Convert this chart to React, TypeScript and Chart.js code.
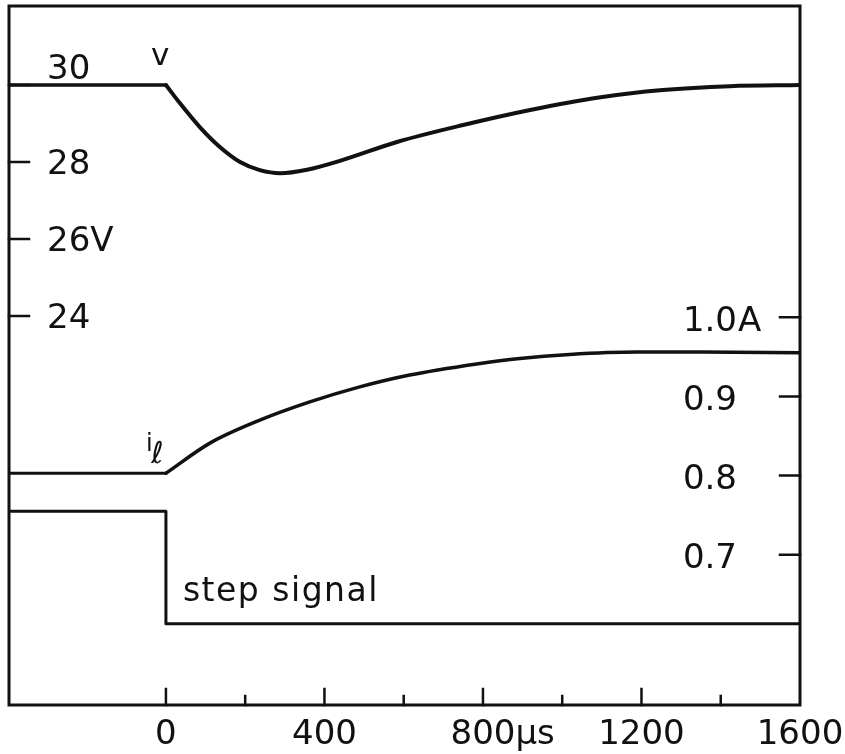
import React, { useEffect, useRef } from "react";
import { Chart, registerables } from "chart.js";

Chart.register(...registerables);

// ---- data ----
const xMin = -396;
const xMax = 1600;
const xTickValues = [0, 200, 400, 600, 800, 1000, 1200, 1400];
const xMajorTicks = [0, 400, 800, 1200];
const xLabelValues = [0, 400, 800, 1200, 1600];
const xLabels = ["0", "400", "800μs", "1200", "1600"];

const vTickValues = [30, 28, 26, 24];
const vTickLabels = ["30", "28", "26V", "24"];
const aTickValues = [1.0, 0.9, 0.8, 0.7];
const aTickLabels = ["1.0A", "0.9", "0.8", "0.7"];

const vPreTime = [-396, 0];
const vPre = [30, 30];
const vTime = [0, 35, 86, 136, 187, 237, 288, 356, 439, 583, 750, 919, 1088, 1254, 1423, 1600];
const vVolts = [30, 29.53, 28.9, 28.39, 28.0, 27.79, 27.71, 27.8, 28.03, 28.52, 28.96, 29.35, 29.67, 29.87, 29.97, 30.0];

const iPreTime = [-396, 0];
const iPre = [0.803, 0.803];
const iTime = [0, 111, 237, 363, 489, 615, 784, 893, 1019, 1188, 1354, 1600];
const iAmps = [0.803, 0.841, 0.87, 0.893, 0.912, 0.927, 0.941, 0.948, 0.953, 0.956, 0.956, 0.955];

const stepTime = [-396, 0, 0, 1600];
const stepLevel = [0.755, 0.755, 0.613, 0.613];

const vAxisMin = 13.896;
const vAxisMax = 32.052;
const aAxisMin = 0.5104;
const aAxisMax = 1.3929;

const ink = "#111";
const FONT = '"DejaVu Sans", "Liberation Sans", sans-serif';

const pts = (xs: number[], ys: number[]) => xs.map((x, i) => ({ x, y: ys[i] }));

function splitLabel(text: string) {
  const m = text.match(/^([\d.]+)(.*)$/);
  return m ? { num: m[1], unit: m[2] } : { num: text, unit: "" };
}

const annotatePlugin = {
  id: "annotate",
  afterDraw(chart: any) {
    const { ctx, chartArea } = chart;
    const xs = chart.scales.x;
    const yv = chart.scales.yV;
    const ya = chart.scales.yA;
    const { left, right, top, bottom } = chartArea;
    ctx.save();
    ctx.strokeStyle = ink;
    ctx.fillStyle = ink;
    ctx.lineCap = "square";
    // frame
    ctx.lineWidth = 3;
    ctx.strokeRect(left, top, right - left, bottom - top);

    // ticks (inward)
    ctx.lineWidth = 2.5;
    ctx.beginPath();
    xTickValues.forEach((v) => {
      const px = xs.getPixelForValue(v);
      const len = xMajorTicks.includes(v) ? 16 : 9;
      ctx.moveTo(px, bottom);
      ctx.lineTo(px, bottom - len);
    });
    vTickValues.forEach((v) => {
      const py = yv.getPixelForValue(v);
      ctx.moveTo(left, py);
      ctx.lineTo(left + 20, py);
    });
    aTickValues.forEach((v) => {
      const py = ya.getPixelForValue(v);
      ctx.moveTo(right, py);
      ctx.lineTo(right - 20, py);
    });
    ctx.stroke();

    // tick labels
    ctx.font = `34px ${FONT}`;
    ctx.textBaseline = "alphabetic";
    const capHalf = 12.4;
    xLabelValues.forEach((v, i) => {
      const { num, unit } = splitLabel(xLabels[i]);
      const px = xs.getPixelForValue(v);
      const w = ctx.measureText(num).width;
      ctx.textAlign = "left";
      ctx.fillText(num, px - w / 2, bottom + 27 + capHalf);
      if (unit) ctx.fillText(unit, px + w / 2, bottom + 27 + capHalf);
    });
    vTickValues.forEach((v, i) => {
      const { num, unit } = splitLabel(vTickLabels[i]);
      let py = yv.getPixelForValue(v);
      if (i === 0) py -= 18;
      ctx.textAlign = "left";
      const x0 = left + 38;
      ctx.fillText(num, x0, py + capHalf);
      if (unit) ctx.fillText(unit, x0 + ctx.measureText(num).width, py + capHalf);
    });
    aTickValues.forEach((v, i) => {
      const { num, unit } = splitLabel(aTickLabels[i]);
      const py = ya.getPixelForValue(v) + 1;
      const xr = right - 63;
      ctx.textAlign = "right";
      ctx.fillText(num, xr, py + capHalf);
      if (unit) {
        ctx.textAlign = "left";
        ctx.fillText(unit, xr + 1, py + capHalf);
      }
    });

    // series labels
    ctx.textAlign = "left";
    const x0px = xs.getPixelForValue(0);
    ctx.font = `31px ${FONT}`;
    ctx.fillText("v", x0px - 15, yv.getPixelForValue(30) - 20);
    const iBase = ya.getPixelForValue(0.803);
    ctx.font = `24px ${FONT}`;
    ctx.fillText("i", x0px - 20, iBase - 22);
    ctx.font = `italic 30px ${FONT}`;
    ctx.fillText("ℓ", x0px - 15, iBase - 10);
    ctx.font = `33px ${FONT}`;
    try {
      (ctx as any).letterSpacing = "1.5px";
    } catch (e) {}
    ctx.fillText("step signal", x0px + 17, ya.getPixelForValue(0.613) - 23);
    try {
      (ctx as any).letterSpacing = "0px";
    } catch (e) {}
    ctx.restore();
  },
};

export default function App() {
  const ref = useRef<HTMLCanvasElement | null>(null);
  useEffect(() => {
    if (!ref.current) return;
    const common = {
      pointRadius: 0,
      borderColor: ink,
      borderWidth: 3.5,
      fill: false,
      borderJoinStyle: "round" as const,
      borderCapStyle: "round" as const,
    };
    const chart = new Chart(ref.current, {
      type: "line",
      data: {
        datasets: [
          { ...common, label: "v (pre)", data: pts(vPreTime, vPre), yAxisID: "yV", tension: 0 },
          { ...common, label: "v", data: pts(vTime, vVolts), yAxisID: "yV", cubicInterpolationMode: "monotone", borderWidth: 4 },
          { ...common, label: "iℓ (pre)", data: pts(iPreTime, iPre), yAxisID: "yA", tension: 0, borderWidth: 3 },
          { ...common, label: "iℓ", data: pts(iTime, iAmps), yAxisID: "yA", cubicInterpolationMode: "monotone" },
          { ...common, label: "step signal", data: pts(stepTime, stepLevel), yAxisID: "yA", tension: 0, borderWidth: 3 },
        ] as any,
      },
      options: {
        animation: false,
        responsive: false,
        devicePixelRatio: 1,
        layout: { padding: { left: 9, top: 6, right: 45, bottom: 49 } },
        plugins: { legend: { display: false }, tooltip: { enabled: false } },
        scales: {
          x: { type: "linear", min: xMin, max: xMax, display: false },
          yV: { type: "linear", position: "left", min: vAxisMin, max: vAxisMax, display: false },
          yA: { type: "linear", position: "right", min: aAxisMin, max: aAxisMax, display: false },
        },
      },
      plugins: [annotatePlugin],
    });
    return () => chart.destroy();
  }, []);
  return (
    <div style={{ position: "fixed", left: 0, top: 0, width: 845, height: 754, background: "#fff" }}>
      <canvas ref={ref} width={845} height={754} style={{ display: "block" }} />
    </div>
  );
}
